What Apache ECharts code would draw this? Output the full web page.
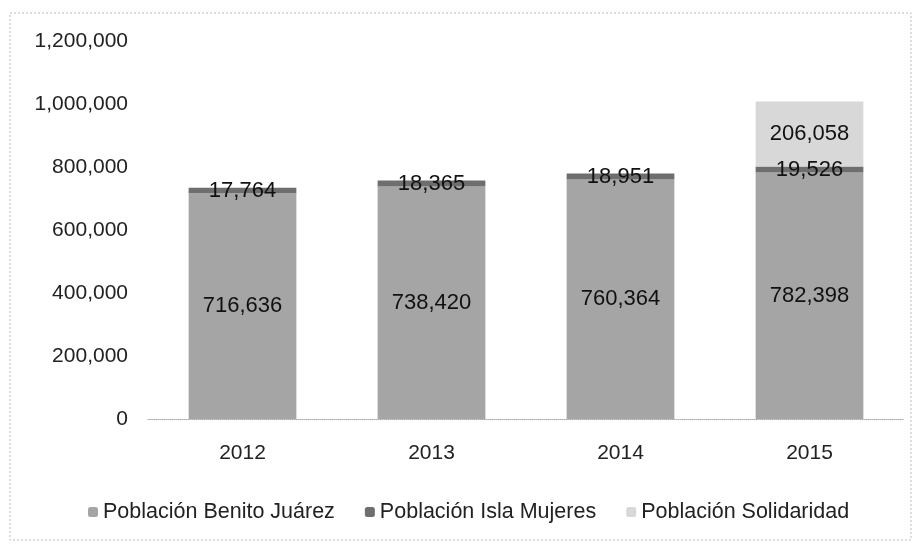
<!DOCTYPE html>
<html>
<head>
<meta charset="utf-8">
<script src="https://cdn.jsdelivr.net/npm/echarts@6/dist/echarts.min.js"></script>
<style>
  html, body { margin: 0; padding: 0; background: #fff; }
  #chart { width: 917px; height: 549px; }
</style>
</head>
<body>
<div id="chart"></div>
<script>
var years = ["2012", "2013", "2014", "2015"];
var benitoJuarez = [716636, 738420, 760364, 782398];
var islaMujeres = [17764, 18365, 18951, 19526];
var solidaridad = [null, null, null, 206058];
var seriesNames = ["Población Benito Juárez", "Población Isla Mujeres", "Población Solidaridad"];

var fontName = "Liberation Sans";

function fmt(v) {
	return v == null ? "" : v.toLocaleString("en-US");
}

var chart = echarts.init(document.getElementById("chart"));
chart.setOption({
	backgroundColor: "#fff",
	animation: false,
	textStyle: { fontFamily: fontName },
	graphic: [{
		type: "rect",
		shape: { x: 10, y: 13, width: 901, height: 527 },
		style: { fill: "none", stroke: "#bbb", lineWidth: 1, lineDash: [2, 2] }
	}],
	legend: {
		top: 496,
		left: 83,
		itemWidth: 10,
		itemHeight: 10,
		itemGap: 30,
		textStyle: { fontSize: 21.5, color: "#222", fontFamily: fontName },
		data: seriesNames
	},
	grid: { left: 148, right: 13, top: 41, bottom: 130 },
	xAxis: {
		type: "category",
		data: years,
		axisLine: { lineStyle: { color: "#aaa", type: "dotted" } },
		axisTick: { show: false },
		axisLabel: { fontSize: 21, color: "#222", margin: 24 }
	},
	yAxis: {
		type: "value",
		min: 0,
		max: 1200000,
		interval: 200000,
		splitLine: { show: false },
		axisLine: { show: false },
		axisTick: { show: false },
		axisLabel: {
			fontSize: 21,
			color: "#222",
			margin: 20,
			formatter: function (v) { return fmt(v); }
		}
	},
	series: [{
		name: seriesNames[0],
		type: "bar",
		stack: "pop",
		barWidth: "57%",
		data: benitoJuarez,
		itemStyle: { color: "#a5a5a5" },
		label: { show: true, position: "inside", fontSize: 22, color: "#111", formatter: function (p) { return fmt(p.value); } }
	}, {
		name: seriesNames[1],
		type: "bar",
		stack: "pop",
		data: islaMujeres,
		itemStyle: { color: "#6e6e6e" },
		label: { show: true, position: "inside", fontSize: 22, color: "#111", formatter: function (p) { return fmt(p.value); } }
	}, {
		name: seriesNames[2],
		type: "bar",
		stack: "pop",
		data: solidaridad,
		itemStyle: { color: "#d8d8d8" },
		label: { show: true, position: "inside", fontSize: 22, color: "#111", formatter: function (p) { return fmt(p.value); } }
	}]
});
</script>
</body>
</html>
